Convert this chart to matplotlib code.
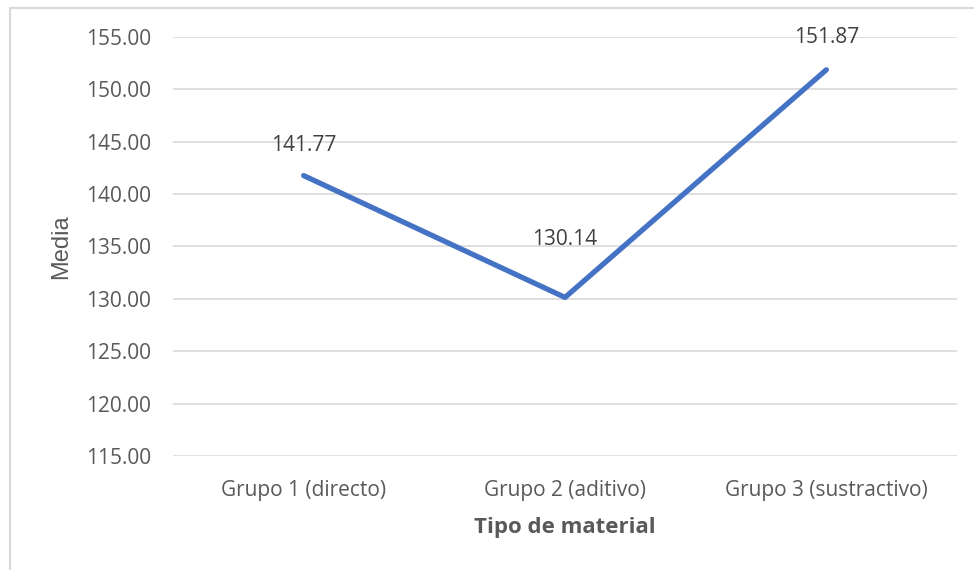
import matplotlib.pyplot as plt
from matplotlib.patches import Rectangle

categories = ['Grupo 1 (directo)', 'Grupo 2 (aditivo)', 'Grupo 3 (sustractivo)']
medias = [141.77, 130.14, 151.87]
labels = ['141.77', '130.14', '151.87']
yticks = [115, 120, 125, 130, 135, 140, 145, 150, 155]

plt.rcParams['font.family'] = ['Open Sans', 'DejaVu Sans']
grey = '#595959'

fig = plt.figure(figsize=(9.74, 5.7), dpi=100)
ax = fig.add_axes([173 / 974, 1 - 456 / 570, 784 / 974, 419 / 570])

# chart frame (only left and top edges visible in the reference)
fig.patches.append(Rectangle((10 / 974, -0.1), 1.2, 1 - 8 / 570 + 0.1, transform=fig.transFigure,
                             fill=False, edgecolor='#d9d9d9', linewidth=1.5))

x = list(range(len(categories)))
ax.plot(x, medias, color='#4472C4', linewidth=3.8, solid_capstyle='round', zorder=3)

# label offsets in points above each point
offsets = [22, 42, 23]
for xi, yi, lab, off in zip(x, medias, labels, offsets):
    ax.annotate(lab, (xi, yi), xytext=(0, off), textcoords='offset points',
                ha='center', va='center', fontsize=15, color='#404040')

ax.set_xlim(-0.5, 2.5)
ax.set_ylim(115, 155)
ax.set_yticks(yticks)
ax.set_yticklabels([f'{v:.2f}' for v in yticks])
ax.set_xticks(x)
ax.set_xticklabels(categories)
ax.tick_params(axis='both', length=0, labelsize=15, colors=grey)
ax.tick_params(axis='y', pad=16)
ax.tick_params(axis='x', pad=17)
ax.grid(axis='y', color='#d9d9d9', linewidth=1.2)
ax.set_axisbelow(True)
for s in ax.spines.values():
    s.set_visible(False)

ax.set_ylabel('Media', fontsize=17, color=grey, labelpad=10, family=['Liberation Sans', 'DejaVu Sans'])
ax.set_xlabel('Tipo de material', fontsize=16, color=grey, fontweight='bold', labelpad=12)

fig.savefig('out.png', dpi=100)
